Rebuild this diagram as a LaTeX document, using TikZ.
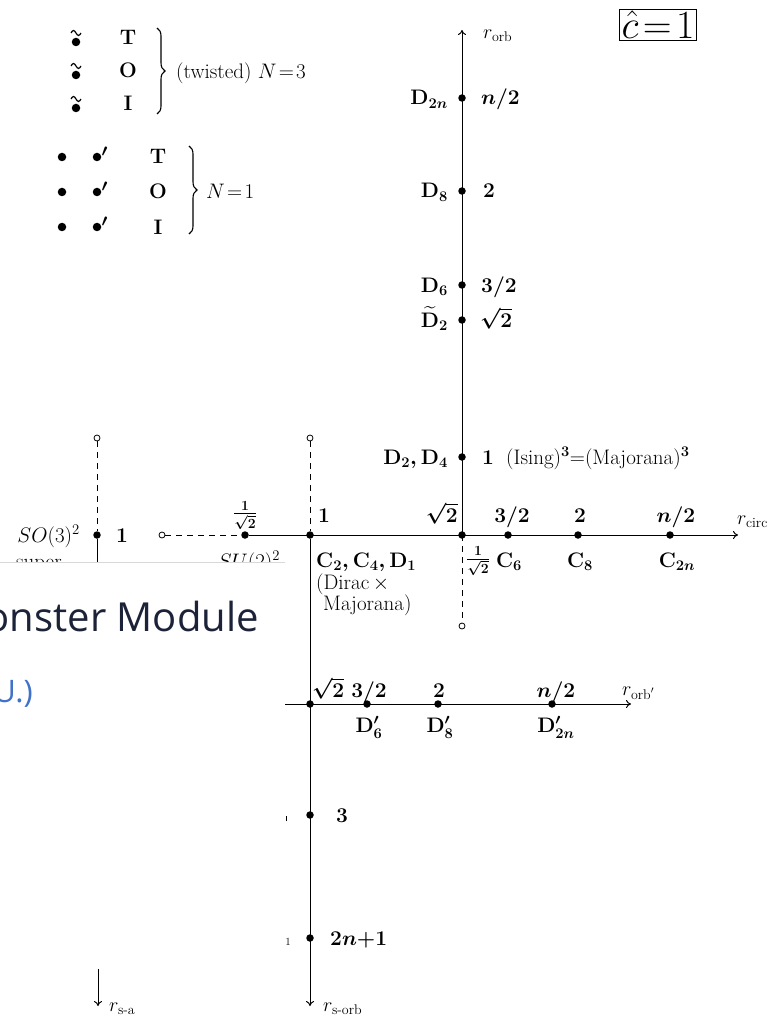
\RequirePackage{fix-cm}
\documentclass[tikz,border=0pt]{standalone}
\usepackage{amsmath}
\usepackage{fontspec}
\newfontfamily\uifont{Open Sans}
\usetikzlibrary{arrows.meta,decorations.pathreplacing}
\definecolor{navy}{HTML}{1C2238}
\definecolor{linkblue}{HTML}{3F72C8}
\definecolor{edgegray}{HTML}{D8D8D8}
\begin{document}
\begin{tikzpicture}[x=1pt,y=-1pt,
  ax/.style={line width=1pt},
  arr/.style={line width=1pt,-{To[length=5pt,width=8pt]}},
  dsh/.style={line width=0.9pt,dash pattern=on 6pt off 5pt},
  pt/.style={circle,fill,inner sep=0pt,minimum size=7.5pt},
  opn/.style={circle,draw,fill=white,inner sep=0pt,minimum size=6pt,line width=0.8pt},
  lb/.style={font=\fontsize{21}{24}\selectfont\boldmath,inner sep=0pt},
  lt/.style={font=\fontsize{21}{24}\selectfont,inner sep=0pt},
  fr/.style={font=\fontsize{20}{22}\selectfont\boldmath,inner sep=0pt},
  ax label/.style={font=\fontsize{20}{22}\selectfont,inner sep=0pt},
  brc/.style={decorate,decoration={brace,amplitude=8pt},line width=1.1pt}
]
\useasboundingbox (0,0) rectangle (770,1016);

% ---------- legend top-left ----------
\foreach \y/\n/\t in {42/a/T,75/b/O,108/c/I}{
  \node[pt,minimum size=8.5pt] (tb\n) at (76,\y) {};
  \draw[line width=1.2pt] (71,\y-9) sin (73.5,\y-11.5) cos (76,\y-9) sin (78.5,\y-6.5) cos (81,\y-9);
  \node[lb,anchor=base] (tg\n) at (128,\y+3) {$\mathbf{\t}$};
}
\coordinate (braA1) at (157,28);
\coordinate (braA2) at (157,114);
\draw[brc] (braA1) -- (braA2);
\node[lt,anchor=base west] (twist) at (176,79) {(twisted) $N\!=\!3$};

\foreach \y/\n/\t in {157/a/T,192/b/O,227/c/I}{
  \node[pt,minimum size=8.5pt] (ba\n) at (62,\y) {};
  \node[pt,minimum size=8.5pt] (bb\n) at (97,\y) {};
  \node[font=\fontsize{17}{18}\selectfont\boldmath,inner sep=0pt] (pr\n) at (104.5,\y-5) {$\prime$};
  \node[lb,anchor=base] (tn\n) at (158,\y+7) {$\mathbf{\t}$};
}
\coordinate (braB1) at (189,146);
\coordinate (braB2) at (189,234);
\draw[brc] (braB1) -- (braB2);
\node[lt,anchor=base west] (None) at (206,199) {$N\!=\!1$};

% ---------- c-hat box ----------
\node[draw,line width=0.9pt,inner xsep=2pt,inner ysep=1.5pt,font=\fontsize{40}{44}\selectfont] (chat) at (658,25) {$\hat{c}\!=\!1$};

% ---------- r_orb axis ----------
\coordinate (O) at (462,535);
\coordinate (Otop) at (462,30);
\draw[arr] (O) -- (Otop);
\node[ax label,anchor=base west] (rorb) at (483,39) {$r_{\mathrm{orb}}$};
\node[opn] (ob) at (462,626) {};
\draw[dsh] (O) -- (ob);

\node[pt] (d2n) at (462,98) {};
\node[pt] (d8) at (462,191) {};
\node[pt] (d6) at (462,285) {};
\node[pt] (dt2) at (462,320) {};
\node[pt] (d24) at (462,457) {};
\node[lb,anchor=base east] at (448,105) {$\mathbf{D}_{2n}$};
\node[lb,anchor=base west] at (481,105) {$n/2$};
\node[lb,anchor=base east] at (448,198) {$\mathbf{D}_{8}$};
\node[lb,anchor=base west] at (483,198) {$2$};
\node[lb,anchor=base east] at (448,292) {$\mathbf{D}_{6}$};
\node[lb,anchor=base west] at (481,292) {$3/2$};
\node[lb,anchor=base east] at (448,327) {$\widetilde{\mathbf{D}}_{2}$};
\node[lb,anchor=base west] at (480,327) {$\sqrt{2}$};
\node[lb,anchor=base east] at (448,464) {$\mathbf{D}_2,\mathbf{D}_4$};
\node[lb,anchor=base west] at (482,464) {$1$};
\node[lb,anchor=base west] at (506,464) {(Ising)$^3$=(Majorana)$^3$};

% ---------- r_circ axis ----------
\node[opn] (cl) at (162,535) {};
\node[pt] (su) at (245,535) {};
\node[pt] (c1) at (310,535) {};
\node[pt] (Op) at (O) {};
\node[pt] (c6) at (508,535) {};
\node[pt] (c8) at (578,535) {};
\node[pt] (c2n) at (670,535) {};
\coordinate (cend) at (738,535);
\draw[dsh] (cl) -- (su);
\draw[arr] (su) -- (cend);
\node[ax label,anchor=base west] (rcirc) at (737,524) {$r_{\mathrm{circ}}$};

\node[opn] (ct) at (310,438) {};
\draw[dsh] (ct) -- (c1);

\node[fr,anchor=south] at (245,530) {$\tfrac{1}{\sqrt{2}}$};
\node[lb,anchor=base west] at (318,522) {$1$};
\node[lb,anchor=base east] at (458,522) {$\sqrt{2}$};
\node[lb,anchor=base] at (512,522) {$3/2$};
\node[lb,anchor=base] at (580,522) {$2$};
\node[lb,anchor=base] at (676,522) {$n/2$};

\node[fr,anchor=west] at (466,561) {$\tfrac{1}{\sqrt{2}}$};
\node[lb,anchor=base] at (509,567) {$\mathbf{C}_6$};
\node[lb,anchor=base] at (580,567) {$\mathbf{C}_8$};
\node[lb,anchor=base] at (677,567) {$\mathbf{C}_{2n}$};
\node[lb,anchor=base west] at (316,567) {$\mathbf{C}_2,\mathbf{C}_4,\mathbf{D}_1$};
\node[lt,anchor=base west] at (316,589) {(Dirac$\,\times$};
\node[lt,anchor=base west] at (323,610) {Majorana)};

% ---------- r_s-orb axis ----------
\coordinate (send) at (310,1006);
\draw[arr] (c1) -- (send);
\node[ax label,anchor=base west] (rsorb) at (323,1011) {$r_{\text{s-orb}}$};
\node[pt] (s3) at (310,815) {};
\node[pt] (s2n) at (310,938) {};
\node[lb,anchor=base west] at (336,822) {$3$};
\node[lb,anchor=base west] at (330,945) {$2n{+}1$};

% ---------- r_orb' axis ----------
\coordinate (pl) at (285,704);
\coordinate (pend) at (631,704);
\draw[arr] (pl) -- (pend);
\node[pt] (p0) at (310,704) {};
\node[pt] (p6) at (367,704) {};
\node[pt] (p8) at (438,704) {};
\node[pt] (p2n) at (552,704) {};
\node[ax label,anchor=base west] (rorbp) at (622,695) {$r_{\mathrm{orb}'}$};
\node[lb,anchor=base west] at (312,697) {$\sqrt{2}$};
\node[lb,anchor=base] at (369,697) {$3/2$};
\node[lb,anchor=base] at (439,697) {$2$};
\node[lb,anchor=base] at (556,697) {$n/2$};
\node[lb,anchor=base] at (369,732) {$\mathbf{D}'_6$};
\node[lb,anchor=base] at (440,732) {$\mathbf{D}'_8$};
\node[lb,anchor=base] at (556,732) {$\mathbf{D}'_{2n}$};

% ---------- SO(3)^2 line ----------
\node[opn] (sot) at (97,438) {};
\node[pt] (so) at (97,535) {};
\coordinate (sobot) at (97,570);
\draw[dsh] (sot) -- (so);
\draw[ax] (so) -- (sobot);
\node[lt,anchor=base east] at (80,542) {$SO(3)^2$};
\node[lb,anchor=base west] at (116,542) {$1$};
\node[lt,anchor=base west] at (16,568) {super-};
\node[lt,anchor=base] at (249,568) {$SU(2)^2$};

% ---------- overlay panel ----------
\fill[white] (0,562) rectangle (285,962);
\draw[edgegray,line width=0.8pt] (0,562) -- (285,562);
\node[font=\uifont\fontsize{40}{44}\selectfont,text=navy,anchor=base east,inner sep=0pt] (mod) at (259,631) {Monster Module};
\node[font=\uifont\fontsize{31}{36}\selectfont,text=linkblue,anchor=base east,inner sep=0pt] (uu) at (33,702) {(U.)};
\node[font=\fontsize{11}{12}\selectfont,inner sep=0pt] (one) at (288,942) {1};
\draw[line width=0.6pt] (286,816) -- (286,821);

% ---------- r_s-a ----------
\coordinate (sat) at (98,969);
\coordinate (sab) at (98,1006);
\draw[arr] (sat) -- (sab);
\node[ax label,anchor=base west] (rsa) at (109,1011) {$r_{\text{s-a}}$};
\end{tikzpicture}
\end{document}
